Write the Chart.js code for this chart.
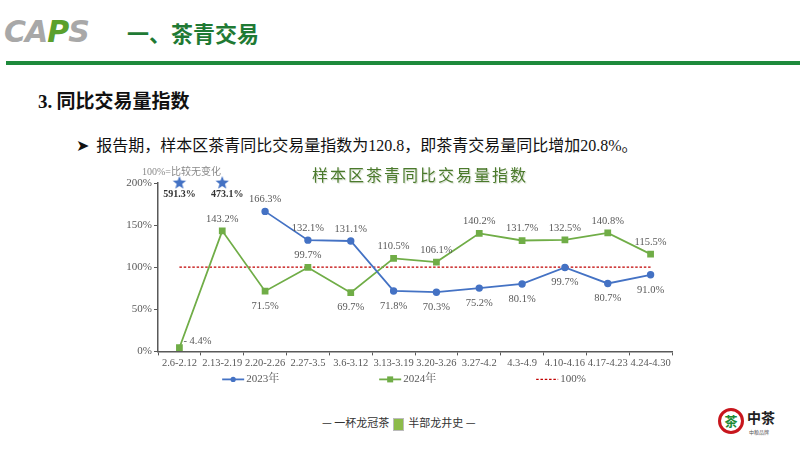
<!DOCTYPE html>
<html><head><meta charset="utf-8">
<script src="https://cdn.jsdelivr.net/npm/chart.js@4/dist/chart.umd.min.js"></script>
<style>
body{margin:0;width:800px;height:450px;background:#fff;position:relative;overflow:hidden;font-family:'Noto Sans CJK SC',sans-serif;}
.abs{position:absolute;white-space:nowrap;}
#logo{left:4px;top:14px;font-family:'DejaVu Sans',sans-serif;font-size:30px;font-weight:bold;color:#a8a8a8;letter-spacing:-1px;font-style:italic;}
#logo span{color:#5aa02c;}
#hdr{left:127px;top:16px;font-size:22px;font-weight:bold;color:#1f7a34;}
#bar{left:6px;top:61px;width:794px;height:4px;background:#1e8a3c;}
#sec{left:38px;top:86px;font-size:19px;font-weight:bold;color:#111;}
#sec b{font-family:'Liberation Serif',serif;}
#bul{left:76px;top:132px;font-size:16px;color:#111;}
#bul .n{font-family:'Liberation Serif',serif;}
#ctitle{left:312px;top:162px;font-size:16px;color:#4b7a2c;letter-spacing:2px;text-shadow:1px 1px 1px #cfd8c8;}
#note{left:142px;top:163px;font-size:10px;color:#8a8a8a;font-family:'Liberation Serif','Noto Sans CJK SC',serif;}
#wrap{left:120px;top:160px;width:560px;height:235px;}
#foot{left:322px;top:414px;font-size:11px;color:#333;font-family:'Noto Sans CJK SC',serif;}
#cup{display:inline-block;width:9px;height:11px;background:#8dbb4a;border:1px solid #bbb;vertical-align:middle;margin:0 4px;}
#zc{left:718px;top:408px;}
#zc .c{position:absolute;left:0;top:0;width:26px;height:26px;border-radius:50%;border:3px solid #c8161d;box-sizing:border-box;color:#1d8a35;font-size:13px;font-weight:bold;text-align:center;line-height:20px;}
#zc .t{position:absolute;left:29px;top:0px;font-size:14px;font-weight:bold;color:#222;line-height:18px;}
#zc .s{position:absolute;left:31px;top:21px;font-size:5px;color:#555;line-height:6px;}
</style></head><body>
<div class="abs" id="logo">CA<span>P</span>S</div>
<div class="abs" id="hdr">一、茶青交易</div>
<div class="abs" id="bar"></div>
<div class="abs" id="sec"><b>3.</b> 同比交易量指数</div>
<div class="abs" id="bul">➤&nbsp; 报告期，样本区茶青同比交易量指数为<span class="n">120.8</span>，即茶青交易量同比增加<span class="n">20.8%</span>。</div>
<div class="abs" id="wrap"><canvas id="c" width="560" height="235"></canvas></div>
<div class="abs" id="note">100%=比较无变化</div>
<div class="abs" id="ctitle">样本区茶青同比交易量指数</div>
<div class="abs" id="foot">— 一杯龙冠茶<span id="cup"></span>半部龙井史 —</div>
<div class="abs" id="zc"><div class="c">茶</div><div class="t">中茶</div><div class="s">中粮品牌</div></div>
<script>
const categories = ['2.6-2.12','2.13-2.19','2.20-2.26','2.27-3.5','3.6-3.12','3.13-3.19','3.20-3.26','3.27-4.2','4.3-4.9','4.10-4.16','4.17-4.23','4.24-4.30'];
const series2023 = [null,null,166.3,132.1,131.1,71.8,70.3,75.2,80.1,99.7,80.7,91.0];
const offChart2023 = [591.3,473.1,null,null,null,null,null,null,null,null,null,null];
const series2024 = [4.4,143.2,71.5,99.7,69.7,110.5,106.1,140.2,131.7,132.5,140.8,115.5];
const baseline = categories.map(()=>100);
const yTicks = [0,50,100,150,200];

const pos2023 = ['','','a','a','a','b','b','b','b','b','b','b'];
const pos2024 = ['r','a','b','a','b','a','a','a','a','a','a','a'];

const BLUE='#4472C4', GREEN='#70AD47', RED='#C00000', GREY='#595959';
const SERIF="'Liberation Serif','Noto Serif CJK SC','Noto Sans CJK SC',serif";

function starImg(r,color){
  const c=document.createElement('canvas');c.width=r*2+2;c.height=r*2+2;
  const x=c.getContext('2d');x.fillStyle=color;x.beginPath();
  for(let i=0;i<10;i++){const rr=i%2?r*0.42:r;const a=-Math.PI/2+i*Math.PI/5;
    x.lineTo(r+1+rr*Math.cos(a),r+1+rr*Math.sin(a));}
  x.closePath();x.fill();return c;
}
const yMax=200;
const starData = offChart2023.map(v=>v==null?null:Math.min(v,yMax));

const labelPlugin={id:'lbl',afterDatasetsDraw(chart){
  const ctx=chart.ctx;ctx.save();ctx.font='10.5px '+SERIF;ctx.textAlign='center';ctx.textBaseline='middle';
  const draw=(di,vals,pos)=>{const meta=chart.getDatasetMeta(di);
    vals.forEach((v,i)=>{if(v==null)return;const p=meta.data[i];let x=p.x,y=p.y;
      const t=v.toFixed(1)+'%';ctx.fillStyle=GREY;
      if(pos[i]==='a'){ctx.textAlign='center';ctx.fillText(t,x,y-12);}
      else if(pos[i]==='b'){ctx.textAlign='center';ctx.fillText(t,x,y+15);}
      else {ctx.textAlign='left';ctx.fillText('- '+t,x+4,y-6);}
    });};
  draw(0,series2023,pos2023);draw(1,series2024,pos2024);
  const sm=chart.getDatasetMeta(3);ctx.textAlign='center';ctx.fillStyle='#333';ctx.font='bold 10px '+SERIF;
  offChart2023.forEach((v,i)=>{if(v==null)return;const p=sm.data[i];ctx.fillText(v.toFixed(1)+'%',p.x+(i===1?5:0),p.y+11);});
  ctx.restore();
}};

const legendPlugin={id:'leg',afterDraw(chart){
  const ctx=chart.ctx;ctx.save();ctx.font='11px '+SERIF;ctx.textBaseline='middle';
  const ds=chart.data.datasets.slice(0,3);
  const lineLen=22, gap=100;
  const widths=ds.map(d=>lineLen+2+ctx.measureText(d.label).width);
  const total=widths.reduce((a,b)=>a+b,0)+gap*(ds.length-1);
  let x=chart.width/2-total/2+4;
  const y=chart.chartArea.bottom+28;
  ds.forEach((d,i)=>{
    ctx.strokeStyle=d.borderColor;ctx.lineWidth=d.borderDash?1.2:1.8;
    ctx.setLineDash(d.borderDash||[]);
    ctx.beginPath();ctx.moveTo(x,y);ctx.lineTo(x+lineLen,y);ctx.stroke();ctx.setLineDash([]);
    ctx.fillStyle=d.borderColor;
    if(d.pointStyle==='circle'){ctx.beginPath();ctx.arc(x+lineLen/2,y,2.6,0,Math.PI*2);ctx.fill();}
    if(d.pointStyle==='rect'){ctx.fillRect(x+lineLen/2-3,y-3,6,6);}
    ctx.fillStyle=GREY;ctx.fillText(d.label,x+lineLen+2,y);
    x+=widths[i]+gap;
  });
  ctx.restore();
}};

new Chart(document.getElementById('c'),{
  type:'line',
  data:{labels:categories,datasets:[
    {label:'2023年',data:series2023,borderColor:BLUE,backgroundColor:BLUE,borderWidth:1.8,pointRadius:2.8,pointStyle:'circle',spanGaps:false},
    {label:'2024年',data:series2024,borderColor:GREEN,backgroundColor:GREEN,borderWidth:1.8,pointRadius:3.5,pointStyle:'rect'},
    {label:'100%',data:baseline,borderColor:RED,borderWidth:1.2,borderDash:[2.5,1.8],pointRadius:0},
    {label:'stars',data:starData,showLine:false,pointStyle:starImg(7,BLUE),pointRadius:7,clip:false}
  ]},
  options:{responsive:false,animation:false,devicePixelRatio:1,
    layout:{padding:{top:23,right:7,left:0,bottom:23}},
    plugins:{tooltip:{enabled:false},legend:{display:false}},
    scales:{
      x:{offset:true,grid:{display:true,offset:true,drawOnChartArea:false,tickLength:4,color:'#595959'},border:{color:'#595959',width:1.5},
        ticks:{color:GREY,font:{family:SERIF,size:10.5},maxRotation:0,autoSkip:false,padding:2}},
      y:{min:0,max:yMax,afterBuildTicks(s){s.ticks=yTicks.map(v=>({value:v}));},afterFit(s){s.width=38;},
        grid:{display:true,drawOnChartArea:false,tickLength:4,color:'#595959'},border:{color:'#595959',width:1.5},
        ticks:{color:GREY,font:{family:SERIF,size:11},padding:2,callback:v=>v+'%'}}
    }},
  plugins:[labelPlugin,legendPlugin]
});
</script>
</body></html>
